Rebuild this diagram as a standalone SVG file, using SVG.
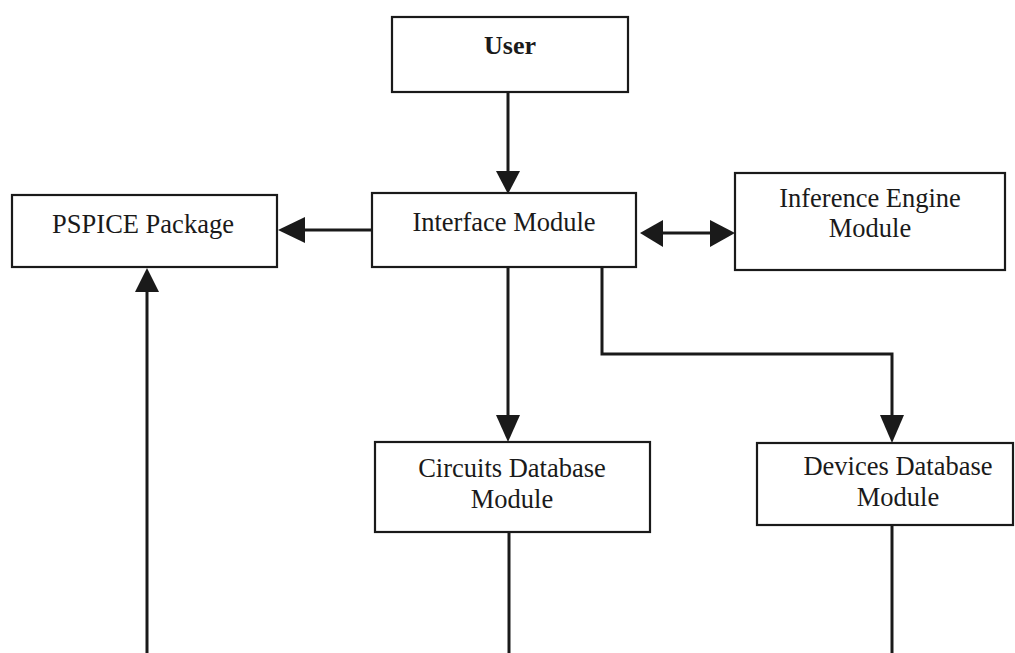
<svg xmlns="http://www.w3.org/2000/svg" width="1015" height="653" viewBox="0 0 1015 653">
<style>
.box{fill:#fff;stroke:#1a1a1a;stroke-width:2.2}
.t{font-family:"Liberation Serif","Times New Roman",serif;font-size:26.5px;fill:#1a1a1a;text-anchor:middle}
.b{font-weight:bold;font-size:26px}
.c{fill:none;stroke:#1a1a1a;stroke-width:3}
.h{fill:#1a1a1a;stroke:none}
</style>
<rect width="1015" height="653" fill="#fff"/>
<g id="connectors">
<line class="c" x1="508" y1="92" x2="508" y2="172"/>
<polygon class="h" points="496,171 520,171 508,194"/>
<line class="c" x1="372" y1="230" x2="303" y2="230"/>
<polygon class="h" points="278,230 305,217 305,243"/>
<line class="c" x1="660" y1="233" x2="712" y2="233"/>
<polygon class="h" points="640,233 663,220 663,247"/>
<polygon class="h" points="735,233 710,220 710,247"/>
<line class="c" x1="508" y1="267" x2="508" y2="417"/>
<polygon class="h" points="496,415 520,415 508,442"/>
<polyline class="c" points="602,267 602,354 892,354 892,417"/>
<polygon class="h" points="880,415 904,415 892,443"/>
<line class="c" x1="147" y1="290" x2="147" y2="653"/>
<polygon class="h" points="147,268 135,292 159,292"/>
<line class="c" x1="509" y1="532" x2="509" y2="653"/>
<line class="c" x1="892" y1="525" x2="892" y2="653"/>
</g>
<g id="user">
<rect class="box" x="392" y="17" width="236" height="75"/>
<text class="t b" x="510" y="54">User</text>
</g>
<g id="pspice">
<rect class="box" x="12" y="195" width="265" height="72"/>
<text class="t" x="143" y="233">PSPICE Package</text>
</g>
<g id="interface">
<rect class="box" x="372" y="193" width="264" height="74"/>
<text class="t" x="504" y="231">Interface Module</text>
</g>
<g id="inference">
<rect class="box" x="735" y="173" width="270" height="97"/>
<text class="t" x="870" y="207">Inference Engine</text>
<text class="t" x="870" y="237">Module</text>
</g>
<g id="circuits">
<rect class="box" x="375" y="442" width="275" height="90"/>
<text class="t" x="512" y="477">Circuits Database</text>
<text class="t" x="512" y="508">Module</text>
</g>
<g id="devices">
<rect class="box" x="757" y="443" width="256" height="82"/>
<text class="t" x="898" y="475">Devices Database</text>
<text class="t" x="898" y="506">Module</text>
</g>
</svg>
